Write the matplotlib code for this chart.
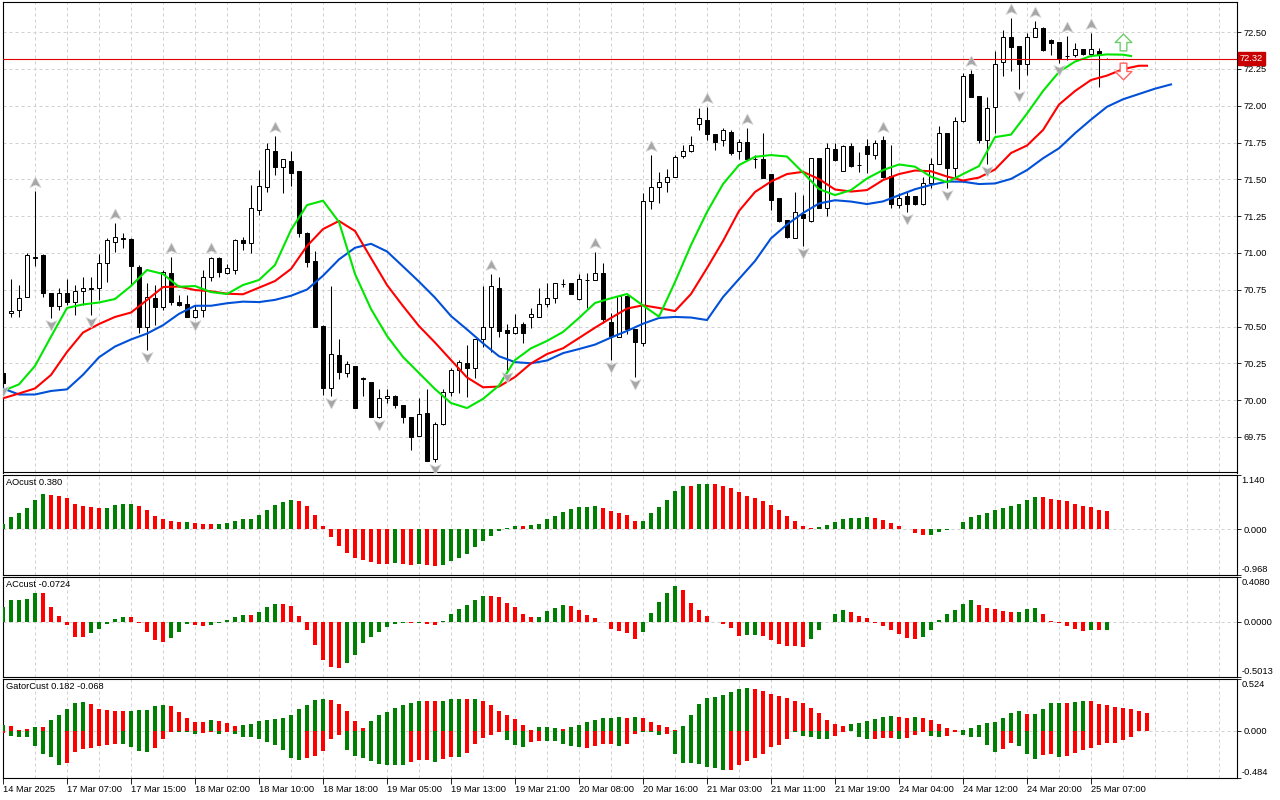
import numpy as np
import matplotlib
matplotlib.use("Agg")
import matplotlib.pyplot as plt
from matplotlib.path import Path
from matplotlib import transforms

plt.rcParams['font.family'] = ['Liberation Sans', 'DejaVu Sans']
plt.rcParams['font.size'] = 6.7

# ---- candles (hourly, bar index 0..138) ----
opens = [70.186, 70.590, 70.612, 70.703, 70.967, 70.986, 70.726, 70.641, 70.726, 70.669,
         70.743, 70.758, 70.760, 70.929, 71.076, 71.103, 71.095, 70.902, 70.495, 70.692,
         70.631, 70.861, 70.664, 70.651, 70.567, 70.612, 70.838, 70.963, 70.861, 70.884,
         71.088, 71.069, 71.292, 71.450, 71.692, 71.582, 71.624, 71.556, 71.137, 70.945,
         70.503, 70.080, 70.306, 70.182, 70.232, 70.147, 70.123, 69.883, 70.012, 70.028,
         69.967, 69.883, 69.758, 69.910, 69.602, 69.836, 70.057, 70.205, 70.250, 70.216,
         70.413, 70.499, 70.760, 70.476, 70.458, 70.517, 70.563, 70.567, 70.651, 70.692,
         70.792, 70.794, 70.687, 70.815, 70.816, 70.861, 70.533, 70.431, 70.709, 70.481,
         70.386, 71.353, 71.446, 71.480, 71.518, 71.660, 71.692, 71.874, 71.903, 71.806,
         71.767, 71.819, 71.692, 71.751, 71.639, 71.638, 71.534, 71.371, 71.224, 71.103,
         71.262, 71.217, 71.643, 71.307, 71.704, 71.559, 71.728, 71.599, 71.728, 71.665,
         71.767, 71.522, 71.325, 71.387, 71.387, 71.332, 71.477, 71.604, 71.817, 71.575,
         71.898, 72.215, 72.063, 71.770, 71.989, 72.295, 72.465, 72.406, 72.281, 72.469,
         72.526, 72.446, 72.431, 72.339, 72.344, 72.383, 72.349, 72.372, 72.320]
highs = [70.198, 70.823, 70.782, 70.997, 71.421, 70.993, 70.728, 70.760, 70.823, 70.782,
         70.834, 70.838, 70.993, 71.099, 71.201, 71.137, 71.101, 70.918, 70.794, 70.782,
         70.884, 70.970, 70.714, 70.714, 70.646, 70.884, 70.970, 70.972, 70.925, 71.095,
         71.110, 71.461, 71.563, 71.749, 71.794, 71.641, 71.692, 71.560, 71.144, 71.013,
         70.507, 70.775, 70.413, 70.268, 70.235, 70.159, 70.126, 70.073, 70.073, 70.035,
         69.970, 69.885, 70.012, 70.073, 69.853, 70.073, 70.216, 70.272, 70.374, 70.415,
         70.775, 70.857, 70.838, 70.517, 70.585, 70.533, 70.624, 70.760, 70.798, 70.796,
         70.821, 70.796, 70.855, 70.866, 71.004, 70.929, 70.590, 70.711, 70.711, 70.483,
         71.405, 71.665, 71.548, 71.573, 71.665, 71.733, 71.796, 71.986, 71.991, 71.808,
         71.851, 71.835, 71.774, 71.850, 71.665, 71.813, 71.536, 71.373, 71.227, 71.412,
         71.393, 71.647, 71.645, 71.745, 71.745, 71.730, 71.745, 71.688, 71.772, 71.767,
         71.794, 71.731, 71.405, 71.416, 71.390, 71.518, 71.643, 71.862, 71.818, 71.925,
         72.220, 72.243, 72.066, 72.061, 72.372, 72.514, 72.594, 72.409, 72.491, 72.575,
         72.533, 72.451, 72.433, 72.477, 72.428, 72.385, 72.496, 72.390, 72.325]
lows = [70.109, 70.567, 70.567, 70.703, 70.913, 70.703, 70.556, 70.612, 70.646, 70.578,
        70.646, 70.578, 70.680, 70.800, 71.008, 71.031, 70.782, 70.454, 70.340, 70.510,
        70.612, 70.646, 70.639, 70.563, 70.558, 70.567, 70.811, 70.838, 70.857, 70.857,
        71.020, 71.001, 71.258, 71.416, 71.529, 71.409, 71.455, 71.110, 70.902, 70.497,
        70.035, 70.028, 70.141, 70.159, 69.944, 70.028, 69.883, 69.880, 69.978, 69.948,
        69.842, 69.661, 69.756, 69.586, 69.582, 69.832, 70.030, 70.046, 70.023, 70.148,
        70.363, 70.329, 70.431, 70.205, 70.449, 70.386, 70.492, 70.565, 70.631, 70.662,
        70.770, 70.719, 70.683, 70.624, 70.813, 70.522, 70.272, 70.429, 70.449, 70.159,
        70.368, 71.298, 71.342, 71.414, 71.516, 71.647, 71.688, 71.835, 71.767, 71.699,
        71.728, 71.665, 71.638, 71.636, 71.575, 71.509, 71.292, 71.212, 71.103, 71.101,
        71.049, 71.213, 71.302, 71.253, 71.628, 71.556, 71.586, 71.552, 71.541, 71.638,
        71.512, 71.303, 71.303, 71.280, 71.329, 71.329, 71.439, 71.601, 71.439, 71.507,
        71.891, 72.059, 71.749, 71.604, 71.813, 72.202, 72.237, 72.111, 72.209, 72.465,
        72.374, 72.344, 72.292, 72.311, 72.329, 72.344, 72.344, 72.129, 72.315]
closes = [70.118, 70.607, 70.692, 70.986, 70.970, 70.726, 70.641, 70.726, 70.669, 70.743,
          70.760, 70.760, 70.929, 71.088, 71.110, 71.092, 70.913, 70.495, 70.703, 70.631,
          70.872, 70.669, 70.646, 70.567, 70.612, 70.838, 70.963, 70.872, 70.895, 71.088,
          71.069, 71.303, 71.455, 71.704, 71.582, 71.636, 71.541, 71.137, 70.940, 70.499,
          70.080, 70.311, 70.193, 70.245, 69.948, 70.144, 69.887, 70.012, 70.028, 69.967,
          69.883, 69.751, 69.904, 69.588, 69.836, 70.057, 70.205, 70.259, 70.220, 70.413,
          70.499, 70.775, 70.472, 70.458, 70.499, 70.454, 70.585, 70.653, 70.692, 70.794,
          70.789, 70.721, 70.821, 70.817, 70.861, 70.551, 70.438, 70.709, 70.481, 70.393,
          71.353, 71.450, 71.480, 71.518, 71.654, 71.692, 71.733, 71.914, 71.806, 71.751,
          71.835, 71.677, 71.751, 71.638, 71.637, 71.511, 71.359, 71.217, 71.110, 71.276,
          71.235, 71.643, 71.303, 71.711, 71.631, 71.728, 71.592, 71.596, 71.670, 71.747,
          71.514, 71.332, 71.371, 71.332, 71.332, 71.477, 71.602, 71.817, 71.575, 71.898,
          72.202, 72.061, 71.764, 71.982, 72.282, 72.465, 72.401, 72.281, 72.469, 72.526,
          72.378, 72.428, 72.322, 72.336, 72.383, 72.349, 72.383, 72.344, 72.320]

# ---- alligator lines (sampled every second bar, shifted forward) ----
jaw_idx = list(range(0, 147, 2))
jaw = [70.079, 70.038, 70.038, 70.062, 70.073, 70.172, 70.291, 70.364, 70.412, 70.452,
       70.509, 70.586, 70.641, 70.641, 70.658, 70.669, 70.666, 70.681, 70.709, 70.751,
       70.845, 70.956, 71.035, 71.062, 71.010, 70.908, 70.805, 70.696, 70.571, 70.480,
       70.386, 70.298, 70.258, 70.250, 70.269, 70.319, 70.347, 70.377, 70.425, 70.470,
       70.519, 70.558, 70.565, 70.561, 70.544, 70.700, 70.823, 70.945, 71.099, 71.193,
       71.271, 71.336, 71.358, 71.349, 71.332, 71.350, 71.392, 71.433, 71.462, 71.485,
       71.484, 71.468, 71.472, 71.503, 71.563, 71.643, 71.711, 71.813, 71.906, 71.993,
       72.044, 72.080, 72.116, 72.145]
teeth_idx = list(range(0, 143, 2)) + [143]
teeth = [70.012, 70.045, 70.079, 70.171, 70.327, 70.459, 70.517, 70.565, 70.595, 70.680,
         70.768, 70.772, 70.748, 70.739, 70.723, 70.719, 70.764, 70.809, 70.891, 71.047,
         71.162, 71.217, 71.149, 70.965, 70.782, 70.639, 70.503, 70.391, 70.272, 70.154,
         70.087, 70.092, 70.157, 70.249, 70.313, 70.352, 70.422, 70.492, 70.558, 70.622,
         70.644, 70.626, 70.605, 70.721, 70.897, 71.081, 71.285, 71.414, 71.485, 71.536,
         71.551, 71.502, 71.431, 71.417, 71.427, 71.495, 71.536, 71.560, 71.555, 71.519,
         71.492, 71.512, 71.567, 71.679, 71.730, 71.835, 72.008, 72.100, 72.175, 72.205,
         72.249, 72.272, 72.272]
lips_idx = list(range(0, 141, 2)) + [141]
lips = [70.062, 70.107, 70.232, 70.431, 70.626, 70.650, 70.663, 70.687, 70.775, 70.884,
        70.857, 70.770, 70.775, 70.734, 70.721, 70.782, 70.816, 70.918, 71.156, 71.325,
        71.355, 71.210, 70.857, 70.619, 70.436, 70.293, 70.184, 70.075, 69.980, 69.946,
        70.008, 70.099, 70.272, 70.352, 70.402, 70.463, 70.558, 70.660, 70.692, 70.721,
        70.643, 70.567, 70.802, 71.054, 71.278, 71.468, 71.597, 71.653, 71.665, 71.655,
        71.546, 71.434, 71.393, 71.427, 71.506, 71.563, 71.601, 71.586, 71.518, 71.480,
        71.536, 71.590, 71.787, 71.804, 71.947, 72.100, 72.230, 72.300, 72.338, 72.349,
        72.347, 72.338]

up_fractals = [4, 14, 21, 26, 34, 61, 74, 81, 88, 93, 110, 121, 126, 129, 133, 136]
down_fractals = [0, 6, 11, 18, 24, 41, 47, 54, 63, 76, 79, 100, 113, 118, 123, 127, 132]
signal_up = (140, 72.435)
signal_down = (140, 72.234)
last_price = 72.32

# ---- oscillators ----
ao = [0.106, 0.253, 0.338, 0.443, 0.612, 0.739, 0.717, 0.696, 0.654, 0.528,
      0.485, 0.464, 0.443, 0.447, 0.506, 0.528, 0.532, 0.485, 0.401, 0.274,
      0.211, 0.169, 0.148, 0.152, 0.127, 0.106, 0.101, 0.105, 0.127, 0.169,
      0.211, 0.215, 0.295, 0.401, 0.506, 0.570, 0.612, 0.591, 0.485, 0.295,
      0.063, -0.169, -0.359, -0.506, -0.612, -0.654, -0.696, -0.739, -0.743, -0.711,
      -0.732, -0.753, -0.732, -0.753, -0.774, -0.753, -0.669, -0.606, -0.521, -0.373,
      -0.247, -0.141, -0.036, 0.015, 0.063, 0.061, 0.084, 0.106, 0.211, 0.274,
      0.359, 0.422, 0.464, 0.468, 0.485, 0.443, 0.380, 0.338, 0.295, 0.169,
      0.173, 0.338, 0.464, 0.612, 0.802, 0.907, 0.903, 0.950, 0.954, 0.950,
      0.907, 0.865, 0.781, 0.696, 0.654, 0.591, 0.506, 0.401, 0.274, 0.169,
      0.063, 0.021, 0.042, 0.084, 0.148, 0.211, 0.232, 0.236, 0.253, 0.232,
      0.190, 0.127, 0.063, 0.006, -0.084, -0.127, -0.122, -0.063, -0.021, 0.004,
      0.148, 0.253, 0.295, 0.338, 0.401, 0.443, 0.485, 0.528, 0.612, 0.675,
      0.671, 0.633, 0.612, 0.591, 0.528, 0.485, 0.464, 0.401, 0.380]
ac = [0.137, 0.199, 0.200, 0.208, 0.263, 0.262, 0.135, 0.052, -0.030, -0.137,
      -0.138, -0.103, -0.067, -0.018, 0.025, 0.043, 0.042, -0.006, -0.094, -0.167,
      -0.186, -0.149, -0.094, -0.020, -0.025, -0.039, -0.030, -0.006, 0.016, 0.043,
      0.061, 0.060, 0.089, 0.135, 0.162, 0.161, 0.144, 0.052, -0.076, -0.213,
      -0.350, -0.414, -0.424, -0.378, -0.305, -0.195, -0.140, -0.094, -0.048, -0.016,
      -0.009, -0.010, -0.006, -0.018, -0.030, 0.006, 0.070, 0.116, 0.153, 0.199,
      0.235, 0.234, 0.226, 0.171, 0.135, 0.070, 0.043, 0.044, 0.098, 0.125,
      0.153, 0.144, 0.107, 0.061, 0.034, -0.003, -0.067, -0.085, -0.103, -0.158,
      -0.094, 0.080, 0.180, 0.263, 0.327, 0.290, 0.171, 0.107, 0.052, 0.003,
      -0.018, -0.058, -0.131, -0.122, -0.119, -0.131, -0.167, -0.204, -0.222, -0.225,
      -0.231, -0.158, -0.076, 0.002, 0.070, 0.107, 0.089, 0.052, 0.034, -0.006,
      -0.039, -0.076, -0.113, -0.149, -0.158, -0.140, -0.076, 0.016, 0.070, 0.107,
      0.162, 0.199, 0.153, 0.125, 0.116, 0.098, 0.089, 0.090, 0.116, 0.125,
      0.070, 0.006, -0.012, -0.039, -0.067, -0.085, -0.076, -0.077, -0.0724]
gator_up = [0.061, 0.051, 0.010, 0.020, 0.041, 0.041, 0.112, 0.163, 0.224, 0.285,
            0.295, 0.275, 0.224, 0.214, 0.204, 0.200, 0.204, 0.209, 0.214, 0.255,
            0.265, 0.255, 0.193, 0.132, 0.092, 0.092, 0.112, 0.102, 0.081, 0.051,
            0.061, 0.066, 0.102, 0.112, 0.122, 0.132, 0.163, 0.224, 0.265, 0.316,
            0.326, 0.316, 0.275, 0.204, 0.102, 0.031, 0.102, 0.163, 0.193, 0.234,
            0.265, 0.285, 0.305, 0.305, 0.305, 0.305, 0.326, 0.326, 0.326, 0.326,
            0.305, 0.265, 0.204, 0.163, 0.122, 0.061, 0.010, 0.041, 0.041, 0.031,
            0.020, 0.041, 0.061, 0.092, 0.112, 0.132, 0.132, 0.143, 0.132, 0.143,
            0.132, 0.092, 0.061, 0.041, 0.010, 0.051, 0.163, 0.275, 0.336, 0.346,
            0.366, 0.397, 0.428, 0.438, 0.428, 0.407, 0.377, 0.356, 0.336, 0.305,
            0.285, 0.234, 0.183, 0.112, 0.071, 0.051, 0.071, 0.081, 0.102, 0.122,
            0.143, 0.153, 0.143, 0.132, 0.143, 0.132, 0.112, 0.071, 0.031, 0.010,
            0.012, 0.031, 0.061, 0.081, 0.092, 0.132, 0.183, 0.204, 0.173, 0.175,
            0.224, 0.285, 0.287, 0.285, 0.295, 0.305, 0.303, 0.275, 0.265, 0.244,
            0.234, 0.224, 0.204, 0.182]
gator_dn = [-0.023, -0.051, -0.061, -0.063, -0.153, -0.234, -0.265, -0.346, -0.326, -0.214,
            -0.183, -0.173, -0.153, -0.143, -0.132, -0.132, -0.163, -0.204, -0.214, -0.173,
            -0.081, -0.010, -0.010, -0.012, -0.031, -0.020, -0.010, -0.031, -0.010, -0.031,
            -0.061, -0.063, -0.081, -0.112, -0.143, -0.193, -0.275, -0.295, -0.275, -0.255,
            -0.204, -0.081, -0.041, -0.193, -0.255, -0.275, -0.305, -0.336, -0.346, -0.346,
            -0.348, -0.316, -0.295, -0.293, -0.316, -0.285, -0.265, -0.267, -0.224, -0.132,
            -0.071, -0.041, -0.010, -0.092, -0.143, -0.163, -0.112, -0.102, -0.104, -0.106,
            -0.132, -0.153, -0.163, -0.173, -0.153, -0.132, -0.130, -0.153, -0.132, -0.031,
            -0.010, -0.012, -0.041, -0.031, -0.234, -0.326, -0.328, -0.336, -0.366, -0.377,
            -0.397, -0.395, -0.346, -0.305, -0.275, -0.234, -0.163, -0.143, -0.081, -0.010,
            -0.051, -0.061, -0.081, -0.083, -0.051, -0.010, -0.003, -0.061, -0.081, -0.079,
            -0.071, -0.069, -0.081, -0.071, -0.041, -0.010, -0.051, -0.061, -0.051, -0.010,
            -0.041, -0.061, -0.063, -0.143, -0.214, -0.183, -0.122, -0.153, -0.234, -0.285,
            -0.244, -0.234, -0.265, -0.255, -0.224, -0.193, -0.173, -0.143, -0.122, -0.120,
            -0.092, -0.068]
gator_up_colors = ("grrrgrgggg" "grrrrrgggg" "grrrrrgrrr" "gggggggggg" "grrrrrgggg"
                   "gggrrgggrg" "rrrrrrrggg" "rgggggggrg" "rrrrrggggg" "ggggrrrrrr"
                   "rrrrrrgggg" "ggrrgrrrrr" "ggggggggrg" "gggrggrrrr" "rrrr")
gator_dn_colors = ("rgggggggrr" "rrrrrggggr" "rrgggrrgrg" "ggggggggrr" "rrrggggggg"
                   "grrrgrrgrr" "rrrgggrrgg" "gggrrrrgrr" "gggrgggggg" "grrrrrrrrg"
                   "ggggrrrggr" "rrgrrrggrr" "gggggrrggg" "rrgrrrrrrr" "rr")

price_ticks = [69.75, 70.00, 70.25, 70.50, 70.75, 71.00, 71.25, 71.50, 71.75, 72.00, 72.25, 72.50]
date_idx = list(range(0, 137, 8))
date_labels = ["14 Mar 2025", "17 Mar 07:00", "17 Mar 15:00", "18 Mar 02:00", "18 Mar 10:00",
               "18 Mar 18:00", "19 Mar 05:00", "19 Mar 13:00", "19 Mar 21:00", "20 Mar 08:00",
               "20 Mar 16:00", "21 Mar 03:00", "21 Mar 11:00", "21 Mar 19:00", "24 Mar 04:00",
               "24 Mar 12:00", "24 Mar 20:00", "25 Mar 07:00"]

GREEN, RED = '#008000', '#ff0000'
GRID = '#d0d0d0'
CMAP = {'g': GREEN, 'r': RED}

W, H = 1280, 800
fig = plt.figure(figsize=(12.8, 8), dpi=100)


def px_axes(x0, y0, x1, y1):
    a = fig.add_axes([x0 / W, 1 - y1 / H, (x1 - x0) / W, (y1 - y0) / H])
    for s in a.spines.values():
        s.set_linewidth(0.8)
        s.set_color('black')
    a.set_xlim(0, 154.25)
    a.set_xticks([])
    a.yaxis.tick_right()
    a.tick_params(axis='y', length=3, width=0.6, pad=1.5, direction='out')
    for g in range(4, 153, 4):
        a.axvline(g, color=GRID, lw=0.72, ls=(0, (3, 3)), zorder=0)
    return a


ax = px_axes(3, 2.3, 1237, 472.5)
ax_ao = px_axes(3, 475, 1237, 575)
ax_ac = px_axes(3, 577.3, 1237, 676.7)
ax_gt = px_axes(3, 679.3, 1237, 778.3)

# main price panel
ax.set_ylim(69.508, 72.703)
for v in price_ticks:
    ax.axhline(v, color=GRID, lw=0.72, ls=(0, (3, 3)), zorder=0)
ax.set_yticks(price_ticks, labels=[f'{v:.2f}' for v in price_ticks])

o, h, l, c = map(np.array, (opens, highs, lows, closes))
idx = np.arange(len(o))
bull = c >= o
ax.vlines(idx, l, h, color='black', lw=0.75, zorder=2)
ax.bar(idx, np.abs(c - o), bottom=np.minimum(o, c), width=0.6,
       color=np.where(bull, 'white', 'black'), edgecolor='black', linewidth=0.72, zorder=3)

ax.plot(jaw_idx, jaw, color='#0050d8', lw=1.5, zorder=4)
ax.plot(teeth_idx, teeth, color='#ff0000', lw=1.5, zorder=4)
ax.plot(lips_idx, lips, color='#00e600', lw=1.5, zorder=4)

ax.axhline(last_price, color='#e00000', lw=0.8, zorder=5)
ax.annotate(f'{last_price:.2f}', xy=(1, last_price), xycoords=('axes fraction', 'data'),
            xytext=(3, 0), textcoords='offset pixels', va='center', ha='left', color='white',
            bbox=dict(boxstyle='square,pad=0.18', fc='#c80000', ec='#c80000'), zorder=10,
            annotation_clip=False)

MV, LN, CL = Path.MOVETO, Path.LINETO, Path.CLOSEPOLY
head = [(0, 1), (1, -0.9), (0, -0.45), (-1, -0.9), (0, 1)]
up_mark = Path(head, [MV, LN, LN, LN, CL])
dn_mark = Path([(x, -y) for x, y in head], [MV, LN, LN, LN, CL])
tr_up = transforms.offset_copy(ax.transData, fig=fig, x=0, y=9, units='dots')
tr_dn = transforms.offset_copy(ax.transData, fig=fig, x=0, y=-7, units='dots')
ax.plot(up_fractals, h[up_fractals], ls='none', marker=up_mark, ms=8, mfc='#a6a6a6',
        mec='#d8d8d8', mew=0.5, transform=tr_up, zorder=6)
ax.plot(down_fractals, l[down_fractals], ls='none', marker=dn_mark, ms=8, mfc='#a6a6a6',
        mec='#d8d8d8', mew=0.5, transform=tr_dn, zorder=6)

blk = [(0, 1), (1, 0), (0.4, 0), (0.4, -1), (-0.4, -1), (-0.4, 0), (-1, 0), (0, 1)]
codes = [MV] + [LN] * 6 + [CL]
ax.plot([signal_up[0]], [signal_up[1]], marker=Path(blk, codes), ms=12, mfc='white',
        mec='#6ccf6c', mew=1.0, zorder=7)
ax.plot([signal_down[0]], [signal_down[1]], marker=Path([(x, -y) for x, y in blk], codes),
        ms=12, mfc='white', mec='#ff6464', mew=1.0, zorder=7)


def rising(vals):
    cols = [GREEN]
    for a, b in zip(vals[:-1], vals[1:]):
        cols.append(GREEN if b > a else RED)
    return cols


def osc_panel(a, lo, hi, fmt, title):
    a.set_ylim(lo, hi)
    a.axhline(0, color=GRID, lw=0.72, ls=(0, (3, 3)), zorder=0)
    a.set_yticks([hi, 0, lo], labels=['', fmt.format(0.0), ''])
    a.annotate(fmt.format(hi), xy=(1, 1), xycoords='axes fraction', xytext=(4.5, -1),
               textcoords='offset pixels', va='top', ha='left', annotation_clip=False)
    a.annotate(fmt.format(lo), xy=(1, 0), xycoords='axes fraction', xytext=(4.5, 1),
               textcoords='offset pixels', va='bottom', ha='left', annotation_clip=False)
    a.annotate(title, xy=(0, 1), xycoords='axes fraction', xytext=(3, -3),
               textcoords='offset pixels', va='top', ha='left')


osc_panel(ax_ao, -0.968, 1.140, '{:.3f}', f'AOcust {ao[-1]:.3f}')
ax_ao.bar(np.arange(len(ao)), ao, width=0.5, color=rising(ao), zorder=3)

osc_panel(ax_ac, -0.5013, 0.4080, '{:.4f}', f'ACcust {ac[-1]:.4f}')
ax_ac.bar(np.arange(len(ac)), ac, width=0.5, color=rising(ac), zorder=3)

osc_panel(ax_gt, -0.484, 0.524, '{:.3f}', f'GatorCust {gator_up[-1]:.3f} {gator_dn[-1]:.3f}')
ax_gt.bar(np.arange(len(gator_up)), gator_up, width=0.5,
          color=[CMAP[k] for k in gator_up_colors], zorder=3)
ax_gt.bar(np.arange(len(gator_dn)), gator_dn, width=0.5,
          color=[CMAP[k] for k in gator_dn_colors], zorder=3)

ax_gt.set_xticks(date_idx, labels=date_labels)
ax_gt.tick_params(axis='x', length=4, width=0.6, pad=1, direction='out')
for lab in ax_gt.get_xticklabels():
    lab.set_horizontalalignment('left')

fig.savefig('out.png', dpi=100, facecolor='white')
